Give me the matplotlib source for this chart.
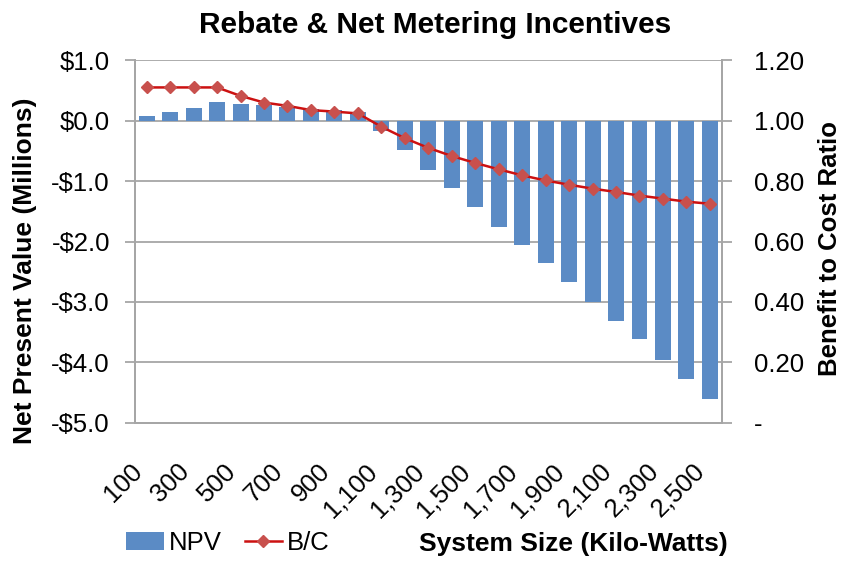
import matplotlib
matplotlib.use("Agg")
import matplotlib.pyplot as plt
import numpy as np

plt.rcParams['font.family'] = ['Liberation Sans', 'DejaVu Sans']

# system sizes (kW)
sizes = list(range(100, 2600, 100))
size_labels = ["{:,}".format(s) for s in sizes]

# net present value, millions of dollars
npv = [0.07, 0.145, 0.21, 0.31, 0.28, 0.26, 0.23, 0.20, 0.17, 0.14,
       -0.165, -0.49, -0.81, -1.11, -1.43, -1.76, -2.05, -2.36, -2.67, -3.00,
       -3.32, -3.62, -3.96, -4.28, -4.60]

# benefit to cost ratio
bc = [1.11, 1.11, 1.11, 1.11, 1.082, 1.06, 1.049, 1.035, 1.03, 1.024,
      0.98, 0.942, 0.91, 0.883, 0.86, 0.839, 0.819, 0.802, 0.788, 0.775,
      0.764, 0.752, 0.742, 0.732, 0.725]

left_ticks = [1, 0, -1, -2, -3, -4, -5]
left_labels = ["$1.0", "$0.0", "-$1.0", "-$2.0", "-$3.0", "-$4.0", "-$5.0"]
right_ticks = [0, 0.2, 0.4, 0.6, 0.8, 1.0, 1.2]
right_labels = ["-", "0.20", "0.40", "0.60", "0.80", "1.00", "1.20"]

grid_col = "#A6A6A6"
bar_col = "#5B8BC5"
line_col = "#CC1111"
mark_col = "#C8504D"
fs = 18.5

fig = plt.figure(figsize=(8.54, 5.63), dpi=100)
ax = fig.add_axes([0.158, 0.249, 0.687, 0.644])
x = np.arange(len(sizes))

bars = ax.bar(x, npv, width=0.68, color=bar_col, zorder=2, label="NPV")
ax.set_xlim(-0.5, len(sizes) - 0.5)
ax.set_ylim(-5, 1)
ax.set_yticks(left_ticks)
ax.set_yticklabels(left_labels)
ax.yaxis.grid(True, color=grid_col, linewidth=1.3)
ax.set_axisbelow(True)
ax.set_xticks(x[::2])
ax.set_xticklabels(size_labels[::2], rotation=45, ha='right', va='top')
ax.tick_params(axis='x', length=0, pad=26, labelsize=fs)
ax.tick_params(axis='y', length=7, color=grid_col, width=1.3, pad=11, labelsize=fs)
for s in ax.spines.values():
    s.set_color(grid_col)
    s.set_linewidth(1.3)
ax.spines['top'].set_visible(False)
ax.set_ylabel("Net Present Value (Millions)", fontsize=19, fontweight='bold')
ax.yaxis.set_label_coords(-0.167, 0.419)

ax2 = ax.twinx()
ln, = ax2.plot(x, bc, color=line_col, linewidth=1.8, marker='D', markersize=6.5,
               markerfacecolor=mark_col, markeredgecolor=mark_col, zorder=3, label="B/C")
ax2.set_ylim(0, 1.2)
ax2.set_yticks(right_ticks)
ax2.set_yticklabels(right_labels)
ax2.tick_params(axis='y', length=7, color=grid_col, width=1.3, pad=16, labelsize=fs)
for s in ax2.spines.values():
    s.set_color(grid_col)
    s.set_linewidth(1.3)
ax2.spines['top'].set_visible(False)
ax2.set_ylabel("Benefit to Cost Ratio", fontsize=18.5, fontweight='bold')
ax2.yaxis.set_label_coords(1.165, 0.482)

fig.text(0.509, 1 - 33 / 563, "Rebate & Net Metering Incentives", fontsize=21.5,
         fontweight='bold', ha='center', va='baseline')
fig.text(728 / 854, 1 - 551 / 563, "System Size (Kilo-Watts)", fontsize=19,
         fontweight='bold', ha='right', va='baseline')
fig.legend([bars, ln], ["NPV", "B/C"], loc='center left', ncol=2,
           bbox_to_anchor=(0.148, 1 - 543 / 563), frameon=False, fontsize=fs,
           handlelength=1.45, handletextpad=0.2, columnspacing=0.9,
           borderaxespad=0, borderpad=0)

fig.savefig("out.png", dpi=100)
